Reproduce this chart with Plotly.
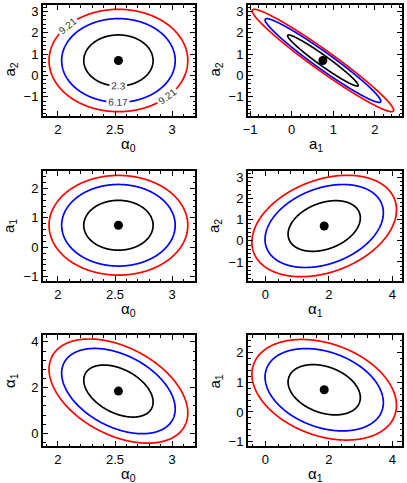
import numpy as np
import plotly.graph_objects as go

# best-fit values and 1-sigma errors of the four parameters
params = ["α0", "α1", "a1", "a2"]
best = [2.53, 1.85, 0.75, 0.70]
sigma = [0.20, 0.75, 0.56, 0.79]

# pairwise correlation coefficients (x, y)
corr = {
    ("α0", "a2"): 0.0,
    ("a1", "a2"): -0.97,
    ("α0", "a1"): 0.0,
    ("α1", "a2"): 0.32,
    ("α0", "α1"): -0.42,
    ("α1", "a1"): -0.31,
}

# delta chi-square levels (68.3%, 95.4%, 99%) and their colours
levels = [2.3, 6.17, 9.21]
level_colors = ["black", "blue", "red"]

# panel layout: (x param, y param), row-major
panels = [("α0", "a2"), ("a1", "a2"), ("α0", "a1"), ("α1", "a2"), ("α0", "α1"), ("α1", "a1")]

labels = {"α0": "α<sub>0</sub>", "α1": "α<sub>1</sub>", "a1": "a<sub>1</sub>", "a2": "a<sub>2</sub>"}
ranges = {"α0": [1.87, 3.2], "α1": [-0.55, 4.3], "a1": [-1.15, 2.6], "a2": [-1.9, 3.3]}
ranges_x = {"a1": [-1.05, 2.65]}
dticks = {"α0": 0.5, "α1": 2, "a1": 1, "a2": 1}

col_dom = [[43 / 407, 195 / 407], [248 / 407, 402 / 407]]
row_dom = [[1 - 116 / 483, 1 - 5 / 483], [1 - 281 / 483, 1 - 171 / 483], [1 - 446 / 483, 1 - 335 / 483]]

FONT = "Liberation Sans, Arial, sans-serif"

fig = go.Figure()
layout = {}
titles = []

for k, (px_, py_) in enumerate(panels):
    i, j = params.index(px_), params.index(py_)
    rho = corr[(px_, py_)]
    cov = np.array([[sigma[i] ** 2, rho * sigma[i] * sigma[j]],
                    [rho * sigma[i] * sigma[j], sigma[j] ** 2]])
    icov = np.linalg.inv(cov)
    xr = ranges_x.get(px_, ranges[px_]) if k == 1 else ranges[px_]
    yr = ranges[py_]
    gx = np.linspace(xr[0], xr[1], 300)
    gy = np.linspace(yr[0], yr[1], 300)
    X, Y = np.meshgrid(gx, gy)
    dx, dy = X - best[i], Y - best[j]
    chi2 = icov[0, 0] * dx * dx + 2 * icov[0, 1] * dx * dy + icov[1, 1] * dy * dy

    n = k + 1
    xa = "x" if n == 1 else f"x{n}"
    ya = "y" if n == 1 else f"y{n}"
    for lev, col in zip(levels, level_colors):
        fig.add_trace(go.Contour(
            x=gx, y=gy, z=chi2, xaxis=xa, yaxis=ya,
            contours=dict(start=lev, end=lev, size=1, coloring="none",
                          showlabels=(k == 0),
                          labelfont=dict(size=10, color="#333", family=FONT)),
            line=dict(color=col, width=1.7),
            showscale=False, hoverinfo="skip",
        ))
    fig.add_trace(go.Scatter(x=[best[i]], y=[best[j]], mode="markers",
                             marker=dict(color="black", size=9),
                             xaxis=xa, yaxis=ya, showlegend=False))

    r, c = divmod(k, 2)
    axis_common = dict(
        showline=True, linecolor="black", linewidth=2, mirror="ticks",
        ticks="inside", ticklen=5, tickwidth=1.2, tickcolor="black",
        showgrid=False, zeroline=False,
        tickfont=dict(size=13, color="black", family=FONT),
    )
    layout[f"xaxis{'' if n == 1 else n}"] = dict(
        axis_common, domain=col_dom[c], anchor=ya, range=xr, dtick=dticks[px_],
        minor=dict(ticks="inside", ticklen=2.5, dtick=dticks[px_] / 5, tickcolor="black"),
    )
    layout[f"yaxis{'' if n == 1 else n}"] = dict(
        axis_common, domain=row_dom[r], anchor=xa, range=yr, dtick=dticks[py_],
        minor=dict(ticks="inside", ticklen=2.5, dtick=dticks[py_] / 5, tickcolor="black"),
    )

    # axis titles as annotations so their distance from the frame is exact
    titles.append(dict(text=labels[px_], xref="paper", yref="paper",
                       x=sum(col_dom[c]) / 2, y=row_dom[r][0], yanchor="middle",
                       yshift=-28, showarrow=False, font=dict(size=15, family=FONT)))
    titles.append(dict(text=labels[py_], xref="paper", yref="paper",
                       x=col_dom[c][0], y=sum(row_dom[r]) / 2, xanchor="center",
                       xshift=-33, textangle=-90, showarrow=False, font=dict(size=15, family=FONT)))

fig.update_layout(
    **layout,
    annotations=titles,
    width=407, height=483,
    margin=dict(l=0, r=0, t=0, b=0, autoexpand=False),
    paper_bgcolor="white", plot_bgcolor="white",
    showlegend=False,
    font=dict(family=FONT, color="black"),
)

# drop the page's default body margin so the figure sits at the window's corner
fig.write_html("out.html", config={"displayModeBar": False},
               post_script="document.body.style.margin='0';document.body.style.overflow='hidden';")
